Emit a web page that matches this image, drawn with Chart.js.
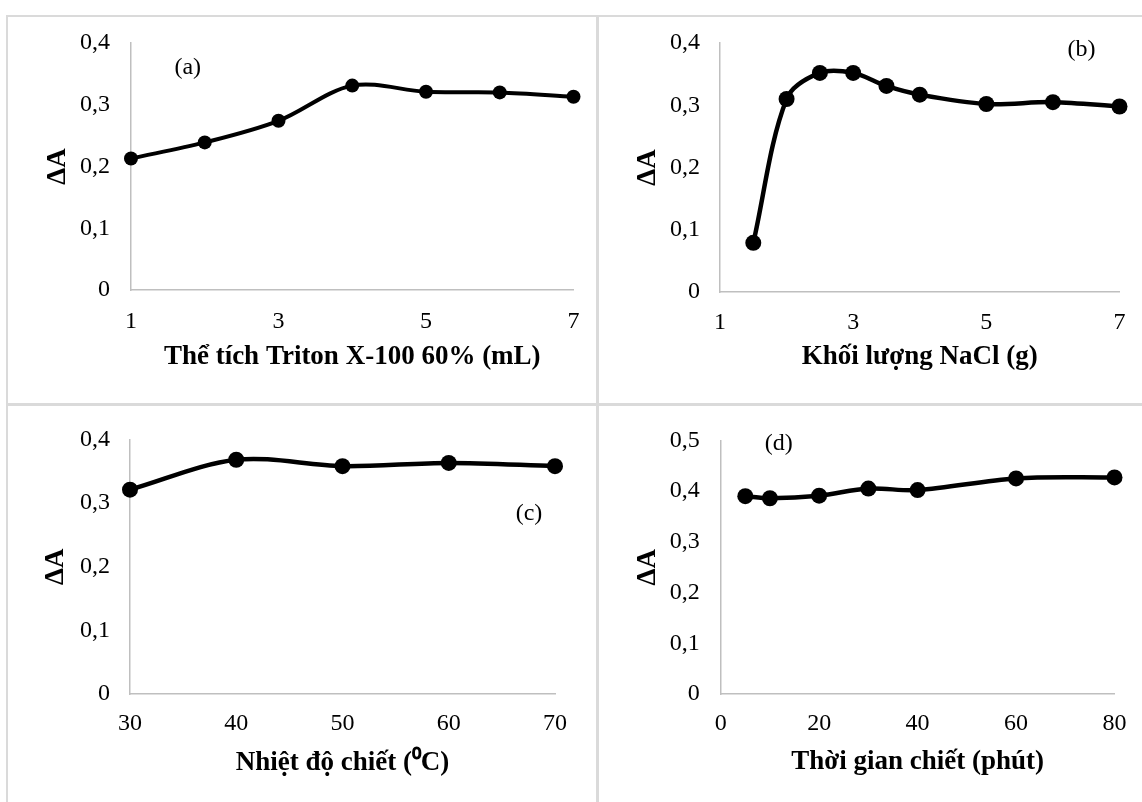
<!DOCTYPE html>
<html><head><meta charset="utf-8">
<script src="https://cdn.jsdelivr.net/npm/chart.js@4.4.1/dist/chart.umd.min.js"></script>
<style>
html,body{margin:0;padding:0;background:#fff;}
#wrap{position:relative;width:1142px;height:802px;overflow:hidden;background:#fff;}
.pane{position:absolute;}
.ln{position:absolute;background:#dadada;}
</style></head><body>
<div id="wrap">
 <div class="pane" style="left:0;top:0;width:597px;height:405px"><canvas id="ca"></canvas></div>
 <div class="pane" style="left:597px;top:0;width:545px;height:405px"><canvas id="cb"></canvas></div>
 <div class="pane" style="left:0;top:405px;width:597px;height:397px"><canvas id="cc"></canvas></div>
 <div class="pane" style="left:597px;top:405px;width:545px;height:397px"><canvas id="cd"></canvas></div>
 <div class="ln" style="left:6px;top:15px;width:2px;height:787px"></div>
 <div class="ln" style="left:7px;top:15px;width:1135px;height:1.5px"></div>
 <div class="ln" style="left:596px;top:15px;width:3px;height:787px"></div>
 <div class="ln" style="left:7px;top:403px;width:1135px;height:3px"></div>
</div>
<script>
// ---- data ----
const xA = [1, 2, 3, 4, 5, 6, 7];
const yA = [0.213, 0.239, 0.274, 0.331, 0.321, 0.320, 0.313];
const xB = [1.5, 2, 2.5, 3, 3.5, 4, 5, 6, 7];
const yB = [0.079, 0.310, 0.352, 0.352, 0.331, 0.317, 0.302, 0.305, 0.298];
const xC = [30, 40, 50, 60, 70];
const yC = [0.321, 0.368, 0.358, 0.363, 0.358];
const xD = [5, 10, 20, 30, 40, 60, 80];
const yD = [0.390, 0.386, 0.391, 0.405, 0.402, 0.425, 0.427];

const xTicksAB = ['1', '3', '5', '7'];
const xTicksC = ['30', '40', '50', '60', '70'];
const xTicksD = ['0', '20', '40', '60', '80'];
const yTicks4 = ['0', '0,1', '0,2', '0,3', '0,4'];
const yTicks5 = ['0', '0,1', '0,2', '0,3', '0,4', '0,5'];

const titleA = 'Thể tích Triton X-100 60% (mL)';
const titleB = 'Khối lượng NaCl (g)';
const titleC = 'Nhiệt độ chiết (⁰C)';
const titleD = 'Thời gian chiết (phút)';
const yTitle = 'ΔA';
const panelNames = ['(a)', '(b)', '(c)', '(d)'];

// ---- rendering ----
const FAM = '"Liberation Serif", "Times New Roman", serif';

const panelLabel = {
  id: 'panelLabel',
  afterDraw(chart, args, opts) {
    const {ctx} = chart;
    const sx = chart.scales.x, sy = chart.scales.y;
    ctx.save();
    ctx.font = '24px ' + FAM;
    ctx.fillStyle = '#000';
    ctx.textAlign = 'center';
    ctx.textBaseline = 'middle';
    ctx.fillText(opts.text, sx.getPixelForValue(opts.x), sy.getPixelForValue(opts.y));
    ctx.restore();
  }
};
Chart.register(panelLabel);

function makeChart(id, xs, ys, c) {
  const pts = xs.map((v, i) => ({x: v, y: ys[i]}));
  return new Chart(document.getElementById(id), {
    type: 'line',
    data: {datasets: [{
      data: pts, borderColor: '#000', backgroundColor: '#000',
      borderWidth: c.lw, tension: 0.33, fill: false, clip: false,
      pointRadius: c.r, pointHoverRadius: c.r, pointBackgroundColor: '#000',
      pointBorderColor: '#000', pointBorderWidth: 0
    }]},
    options: {
      responsive: true, maintainAspectRatio: false, animation: false,
      events: [],
      layout: {padding: {left: 0, right: c.pr, top: c.pt, bottom: 0}},
      plugins: {
        legend: {display: false}, tooltip: {enabled: false},
        panelLabel: {text: c.lab, x: c.lx, y: c.ly}
      },
      scales: {
        x: {
          type: 'linear', min: c.xmin, max: c.xmax,
          ticks: {stepSize: c.xstep, autoSkip: false, maxRotation: 0, color: '#000',
                  font: {family: FAM, size: 24}, padding: c.xtp,
                  callback: (v, i) => c.xt[i]},
          grid: {display: false, drawTicks: false},
          border: {display: true, color: '#bfbfbf', width: 1.5},
          title: {display: true, text: c.title, color: '#000',
                  font: {family: FAM, size: 27, weight: 'bold'},
                  padding: {top: 0, bottom: c.xtb}},
          afterFit: s => { s.height = c.xh; }
        },
        y: {
          type: 'linear', min: 0, max: c.ymax,
          ticks: {stepSize: 0.1, autoSkip: false, color: '#000',
                  font: {family: FAM, size: 24}, padding: c.ytp,
                  callback: (v, i) => c.yt[i]},
          grid: {display: false, drawTicks: false},
          border: {display: true, color: '#bfbfbf', width: 1.5},
          title: {display: true, text: yTitle, color: '#000',
                  font: {family: FAM, size: 27, weight: 'bold'},
                  padding: {top: c.ytt, bottom: 0}},
          afterFit: s => { s.width = c.yw; }
        }
      }
    }
  });
}

makeChart('ca', xA, yA, {lw: 4, r: 7, pr: 22.5, pt: 43, xh: 115, yw: 131,
  xmin: 1, xmax: 7, xstep: 2, xt: xTicksAB, ymax: 0.4, yt: yTicks4,
  xtp: 17.5, xtb: 31.5, ytp: 21, ytt: 41.4, title: titleA,
  lab: panelNames[0], lx: 1.77, ly: 0.36});
makeChart('cb', xB, yB, {lw: 4.5, r: 8, pr: 19, pt: 43, xh: 113, yw: 123,
  xmin: 1, xmax: 7, xstep: 2, xt: xTicksAB, ymax: 0.4, yt: yTicks4,
  xtp: 16.5, xtb: 31.5, ytp: 20, ytt: 34.4, title: titleB,
  lab: panelNames[1], lx: 6.43, ly: 0.389});
makeChart('cc', xC, yC, {lw: 4.5, r: 8, pr: 42, pt: 29, xh: 108, yw: 130,
  xmin: 30, xmax: 70, xstep: 10, xt: xTicksC, ymax: 0.4, yt: yTicks4,
  xtp: 15.5, xtb: 22.5, ytp: 20, ytt: 40, title: titleC,
  lab: panelNames[2], lx: 67.55, ly: 0.283});
makeChart('cd', xD, yD, {lw: 4.5, r: 8, pr: 26.4, pt: 30, xh: 108, yw: 123.7,
  xmin: 0, xmax: 80, xstep: 20, xt: xTicksD, ymax: 0.5, yt: yTicks5,
  xtp: 15.5, xtb: 23.5, ytp: 21, ytt: 34.4, title: titleD,
  lab: panelNames[3], lx: 11.8, ly: 0.494});
</script>
</body></html>
